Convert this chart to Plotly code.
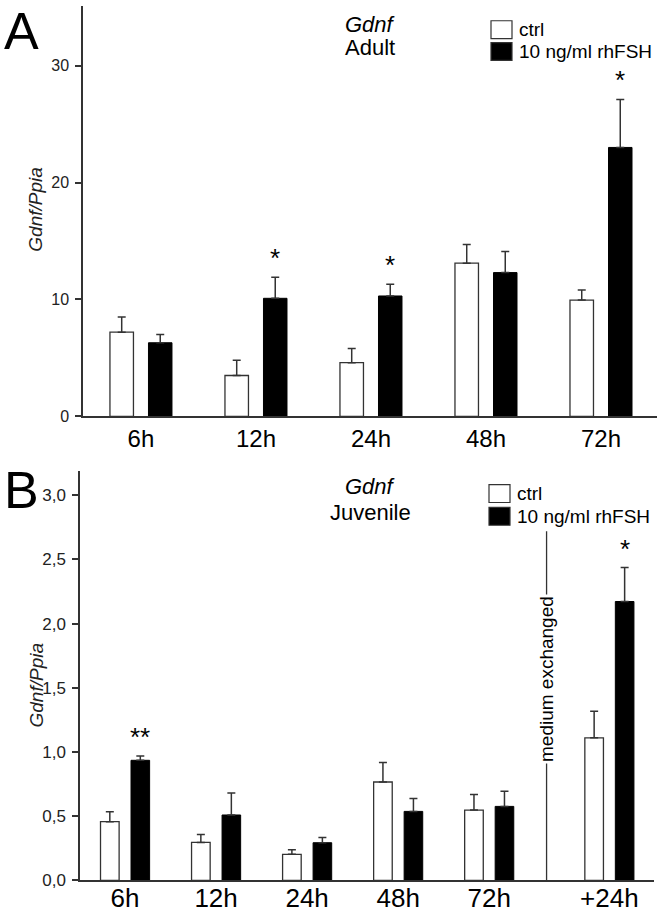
import plotly.graph_objects as go

# ---------------- data ----------------
times_a = ["6h", "12h", "24h", "48h", "72h"]
ctrl_a = [7.2, 3.5, 4.6, 13.1, 9.95]
ctrl_a_err = [1.3, 1.3, 1.2, 1.6, 0.85]
fsh_a = [6.3, 10.1, 10.3, 12.3, 23.0]
fsh_a_err = [0.7, 1.8, 1.0, 1.8, 4.1]
sig_a = ["", "*", "*", "", "*"]

times_b = ["6h", "12h", "24h", "48h", "72h", "+24h"]
ctrl_b = [0.457, 0.295, 0.203, 0.766, 0.547, 1.110]
ctrl_b_err = [0.077, 0.062, 0.036, 0.151, 0.121, 0.208]
fsh_b = [0.935, 0.509, 0.293, 0.537, 0.576, 2.172]
fsh_b_err = [0.034, 0.172, 0.041, 0.100, 0.118, 0.264]
sig_b = ["**", "", "", "", "", "*"]

series_names = ["ctrl", "10 ng/ml rhFSH"]

# ---------------- layout helpers ----------------
W, H = 664, 921
FONT = "Liberation Sans, Arial, Helvetica, sans-serif"
INK = "#222222"
LINE = "#333333"
BARGAP, BARGROUPGAP = 0.33, 0.39
OFF = (1 - BARGAP) / 4  # bar centre offset from group centre

pos_a = list(range(len(times_a)))
pos_b = list(range(5)) + [5.32]   # gap after 72h for medium exchange
medium_x = 4.63

def px(x):
    return x / W

def py(y):
    return 1 - y / H

fig = go.Figure()

def add_bars(xpos, ctrl, cerr, fsh, ferr, xa, ya):
    err_style = dict(type="data", symmetric=False, color=LINE, thickness=1.5, width=4)
    fig.add_trace(go.Bar(
        x=xpos, y=ctrl, name=series_names[0], xaxis=xa, yaxis=ya,
        marker=dict(color="white", line=dict(color=LINE, width=1.3)),
        error_y=dict(array=cerr, arrayminus=[0] * len(cerr), **err_style),
        showlegend=False,
    ))
    fig.add_trace(go.Bar(
        x=xpos, y=fsh, name=series_names[1], xaxis=xa, yaxis=ya,
        marker=dict(color="black", line=dict(color="black", width=1)),
        error_y=dict(array=ferr, arrayminus=[0] * len(ferr), **err_style),
        showlegend=False,
    ))

add_bars(pos_a, ctrl_a, ctrl_a_err, fsh_a, fsh_a_err, "x", "y")
add_bars(pos_b, ctrl_b, ctrl_b_err, fsh_b, fsh_b_err, "x2", "y2")

annotations = []
shapes = []

def note(x, y, text, size, xref="paper", yref="paper", xanchor="center", **kw):
    d = dict(x=x, y=y, xref=xref, yref=yref, text=text, showarrow=False,
             xanchor=xanchor, yanchor="middle",
             font=dict(family=FONT, size=size, color=kw.pop("color", "black")))
    d.update(kw)
    annotations.append(d)

# significance stars
for xs, vals, errs, sig, xr, yr in [
    (pos_a, fsh_a, fsh_a_err, sig_a, "x", "y"),
    (pos_b, fsh_b, fsh_b_err, sig_b, "x2", "y2"),
]:
    for x, v, e, s in zip(xs, vals, errs, sig):
        if s:
            note(x + OFF, v + e, s, 26, xref=xr, yref=yr, yshift=19)

# medium exchanged marker
shapes.append(dict(type="line", xref="x2", yref="y2", x0=medium_x, x1=medium_x,
                   y0=0, y1=2.72, line=dict(color=LINE, width=1.3)))
note(medium_x, 1.565, "medium exchanged", 19, xref="x2", yref="y2",
     textangle=-90, bgcolor="white")

# panel letters
note(px(21), py(31), "A", 52)
note(px(21), py(495), "B", 52)

# y axis titles
note(px(36), py(212), "<i>Gdnf/Ppia</i>", 19, textangle=-90, color=INK)
note(px(36), py(693), "<i>Gdnf/Ppia</i>", 19, textangle=-90, color=INK)

# panel titles
for (tx, ty1, ty2, sub) in [(370, 25, 48, "Adult"), (370, 492, 518, "Juvenile")]:
    note(px(tx), py(ty1), "<i>Gdnf</i>", 22)
    note(px(tx), py(ty2), sub, 22)

# legends (drawn)
for (bx, y1, y2) in [(491, 30, 52), (489, 499, 522)]:
    for yc, fill, label in [(y1, "white", series_names[0]), (y2, "black", series_names[1])]:
        shapes.append(dict(type="rect", xref="paper", yref="paper",
                           x0=px(bx), x1=px(bx + 21), y0=py(yc - 9), y1=py(yc + 9),
                           fillcolor=fill, line=dict(color=LINE, width=1.2)))
        note(px(bx + 26), py(yc), label, 19, xanchor="left")

axis_common = dict(showline=True, linecolor=LINE, linewidth=1.5, showgrid=False, zeroline=False)

fig.update_layout(
    width=W, height=H, autosize=False,
    margin=dict(l=0, r=0, t=0, b=0),
    paper_bgcolor="white", plot_bgcolor="white",
    barmode="group", bargap=BARGAP, bargroupgap=BARGROUPGAP,
    separators=", ",
    font=dict(family=FONT, color=INK),
    xaxis=dict(domain=[px(83), px(657)], anchor="y", range=[-0.504, 4.487],
               tickmode="array", tickvals=pos_a, ticktext=times_a, ticks="",
               tickfont=dict(family=FONT, size=24, color="black"), ticklabelstandoff=0,
               **axis_common),
    yaxis=dict(domain=[py(421), py(6)], anchor="x", range=[0, 35.1],
               tickmode="array", tickvals=[0, 10, 20, 30], ticks="outside", ticklen=6,
               tickcolor=LINE, tickwidth=1.5, ticklabelstandoff=3,
               tickfont=dict(family=FONT, size=16, color=INK), **axis_common),
    xaxis2=dict(domain=[px(80), px(654)], anchor="y2", range=[-0.495, 5.81],
                tickmode="array", tickvals=pos_b, ticktext=times_b, ticks="",
                tickfont=dict(family=FONT, size=26, color="black"), ticklabelstandoff=-6,
                **axis_common),
    yaxis2=dict(domain=[py(890), py(476)], anchor="x2", range=[0, 3.19],
                tickmode="linear", tick0=0, dtick=0.5, tickformat=".1f",
                ticks="outside", ticklen=6, tickcolor=LINE, tickwidth=1.5, ticklabelstandoff=3,
                tickfont=dict(family=FONT, size=17, color=INK), **axis_common),
    annotations=annotations,
    shapes=shapes,
)

fig.write_html(
    "out.html",
    config={"displayModeBar": False},
    post_script="document.body.style.margin='0';document.body.style.overflow='hidden';",
)
